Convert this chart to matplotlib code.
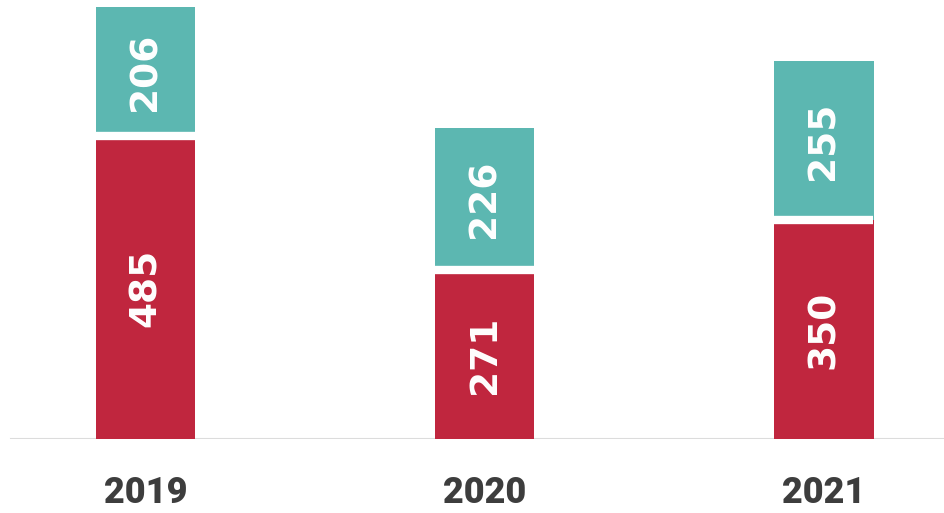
import matplotlib
matplotlib.use("Agg")
import matplotlib.pyplot as plt

years = ["2019", "2020", "2021"]
red_vals = [485, 271, 350]
teal_vals = [206, 226, 255]

RED = "#C0263E"
TEAL = "#5CB7B1"
TEXT_DARK = "#3d3d3d"

W, H, DPI = 945, 513, 100
BASE_PX = 74          # baseline distance from bottom, px
PX_PER_UNIT = 0.625
X0_PX, STEP_PX, BAR_PX = 146, 339, 99

fig = plt.figure(figsize=(W / DPI, H / DPI), dpi=DPI)
ax = fig.add_axes([0, BASE_PX / H, 1, (H - BASE_PX) / H])
ax.set_xlim(-X0_PX / STEP_PX, (W - X0_PX) / STEP_PX)
ax.set_ylim(0, (H - BASE_PX) / PX_PER_UNIT)
ax.axis("off")

x = list(range(len(years)))
bw = BAR_PX / STEP_PX

ax.bar(x, red_vals, width=bw, color=RED, zorder=2)
ax.bar(x, teal_vals, width=bw, bottom=red_vals, color=TEAL, zorder=2)
# white gap between segments
ax.hlines(red_vals, [i - bw / 2 for i in x], [i + bw / 2 for i in x],
          color="white", lw=6, zorder=3)

# baseline
ax.axhline(0, xmin=11 / W, xmax=1, color="#dcdcdc", lw=1.5, zorder=1)

for i in x:
    r, t = red_vals[i], teal_vals[i]
    ax.text(i, r / 2, str(r), rotation=90, ha="center", va="center",
            color="white", fontsize=27, fontweight="bold",
            family="DejaVu Sans", zorder=4)
    ax.text(i, r + t / 2, str(t), rotation=90, ha="center", va="center",
            color="white", fontsize=27, fontweight="bold",
            family="DejaVu Sans", zorder=4)
    ax.text(i, -54 / PX_PER_UNIT, years[i], ha="center", va="center",
            color=TEXT_DARK, fontsize=26, fontweight="black",
            family="Roboto", clip_on=False)

fig.savefig("out.png", dpi=DPI, facecolor="white")
